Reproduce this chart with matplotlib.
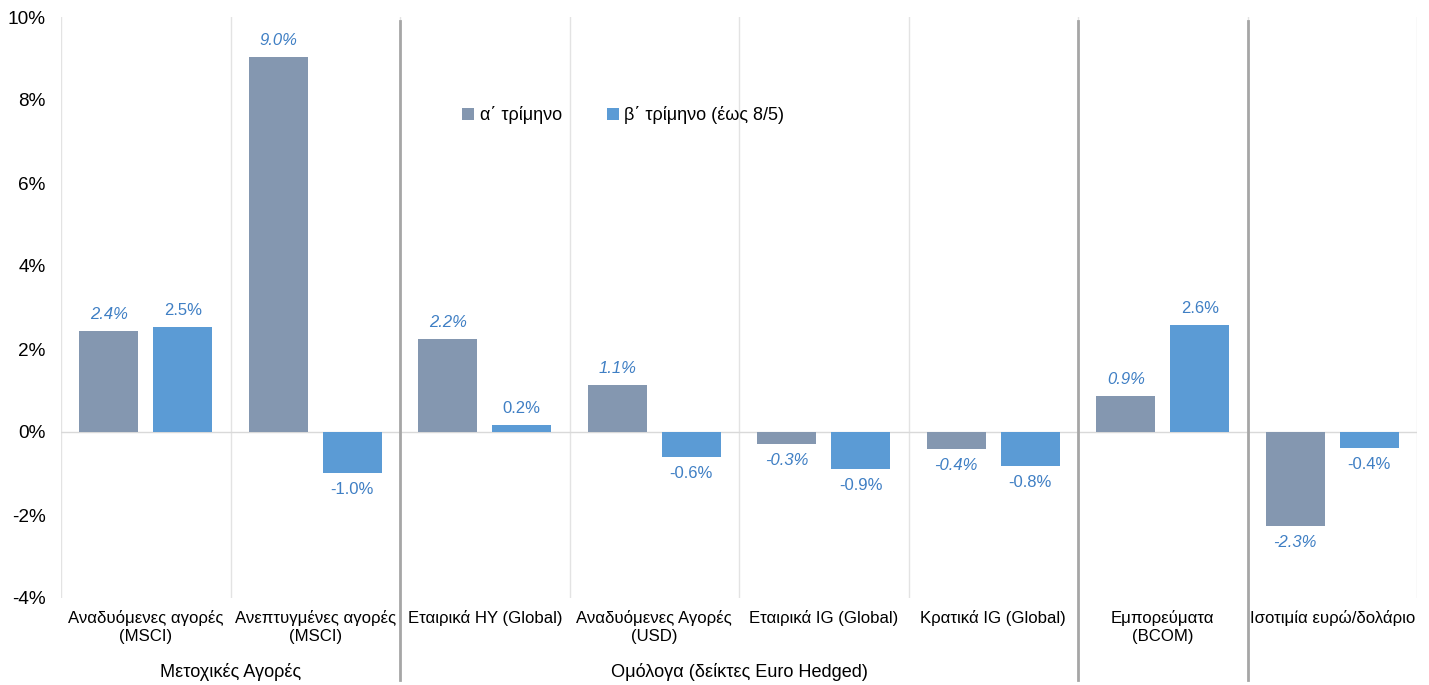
import numpy as np
import matplotlib
matplotlib.use("Agg")
import matplotlib.pyplot as plt
import matplotlib.transforms as mtransforms

plt.rcParams['font.family'] = ['Liberation Sans', 'DejaVu Sans']

# data
categories = ["Αναδυόμενες αγορές\n(MSCI)", "Ανεπτυγμένες αγορές\n(MSCI)",
              "Εταιρικά HY (Global)", "Αναδυόμενες Αγορές\n(USD)",
              "Εταιρικά IG (Global)", "Κρατικά IG (Global)",
              "Εμπορεύματα\n(BCOM)", "Ισοτιμία ευρώ/δολάριο"]
q1 = [2.43, 9.04, 2.24, 1.14, -0.28, -0.41, 0.87, -2.27]
q2 = [2.53, -0.99, 0.17, -0.60, -0.89, -0.82, 2.58, -0.39]
series_names = ["α΄ τρίμηνο", "β΄ τρίμηνο (έως 8/5)"]
groups = ["Μετοχικές Αγορές", "Ομόλογα (δείκτες Euro Hedged)"]
group_spans = [(0, 1), (2, 5)]
separators = [1.5, 5.5, 6.5]

c1 = "#8497B0"
c2 = "#5B9BD5"
lab_col = "#3F7FC4"

fig = plt.figure(figsize=(14.29, 6.85), dpi=100)
ax = fig.add_axes([61 / 1429, 87 / 685, 1356 / 1429, 581 / 685])

x = np.arange(len(categories))
w = 0.35
off = 0.218
ax.bar(x - off, q1, w, color=c1, label=series_names[0], zorder=3)
ax.bar(x + off, q2, w, color=c2, label=series_names[1], zorder=3)

# data labels
for xi, v in zip(x, q1):
    y = v + 0.22 if v >= 0 else v - 0.22
    ax.text(xi - off, y, "%.1f%%" % v, ha="center", va="bottom" if v >= 0 else "top",
            fontsize=12, color=lab_col, style="italic")
for xi, v in zip(x, q2):
    y = v + 0.22 if v >= 0 else v - 0.22
    ax.text(xi + off, y, "%.1f%%" % v, ha="center", va="bottom" if v >= 0 else "top",
            fontsize=12, color=lab_col)

ax.set_xlim(-0.5, len(categories) - 0.5)
ax.set_ylim(-4, 10)
ax.set_yticks(np.arange(-4, 11, 2))
ax.set_yticklabels(["%d%%" % t for t in np.arange(-4, 11, 2)], fontsize=13.7)
ax.set_xticks(x)
ax.set_xticklabels(categories, fontsize=12.1, linespacing=1.2)
ax.tick_params(length=0)
ax.tick_params(axis="y", pad=11)
ax.tick_params(axis="x", pad=9)
for s in ax.spines.values():
    s.set_visible(False)

# light category gridlines and zero line
for b in np.arange(-0.5, len(categories), 1.0):
    ax.axvline(b, color="#E3E3E3", lw=1, zorder=1)
ax.axhline(0, color="#D9D9D9", lw=1, zorder=2)

# group separators extending below the axis
trans = mtransforms.blended_transform_factory(ax.transData, ax.transAxes)
for s in separators:
    ax.plot([s, s], [0.993, -0.141], transform=trans, color="#A6A6A6",
            lw=2, clip_on=False, zorder=4)

# group labels
for g, (a, b) in zip(groups, group_spans):
    ax.text((a + b) / 2, -0.128, g, transform=trans, ha="center", va="center",
            fontsize=13.1)

ax.legend(loc="upper left", bbox_to_anchor=(0.284, 0.875), ncol=2, frameon=False,
          fontsize=13, handlelength=0.65, handleheight=0.65, handletextpad=0.3,
          columnspacing=2.5)

fig.savefig("out.png", dpi=100)
